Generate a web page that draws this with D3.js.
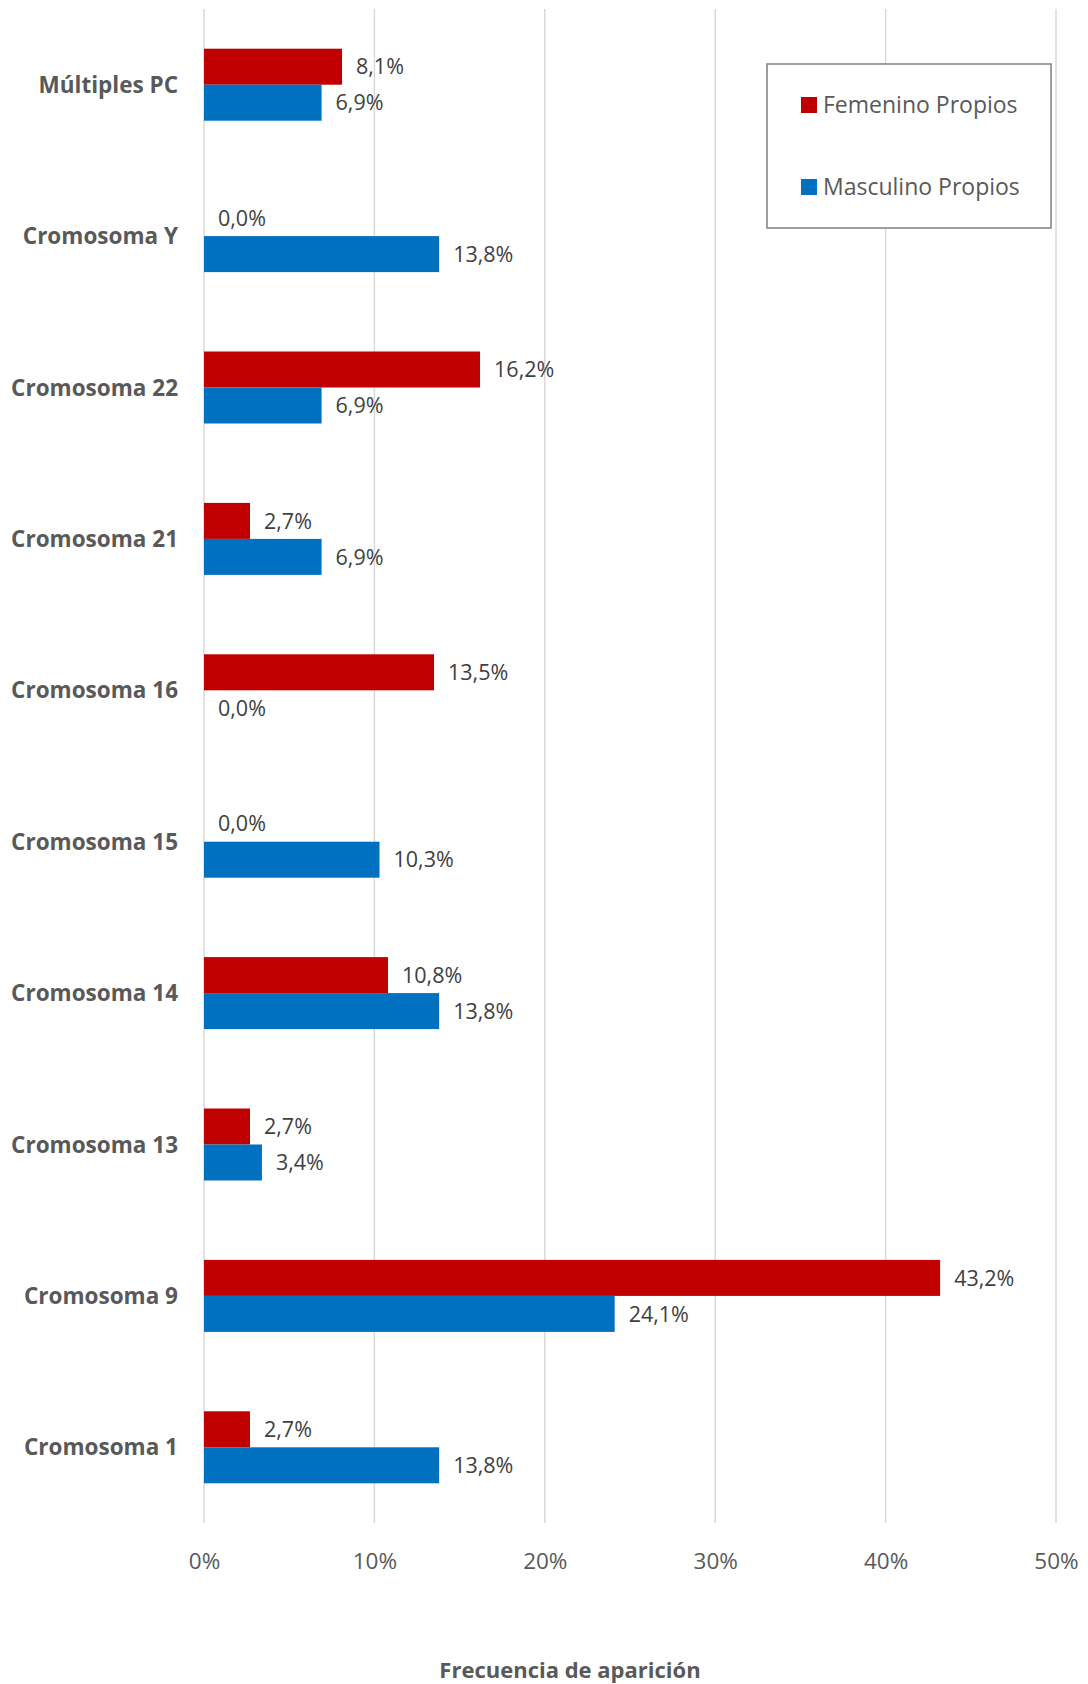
<!DOCTYPE html>
<html>
<head>
<meta charset="utf-8">
<script src="https://cdn.jsdelivr.net/npm/d3@7"></script>
<style>
  html, body { margin: 0; padding: 0; background: #fff; }
  svg { display: block; }
</style>
</head>
<body>
<svg id="chart" width="1088" height="1684"></svg>
<script>
// Categories listed top to bottom
const categories = ["Múltiples PC", "Cromosoma Y", "Cromosoma 22", "Cromosoma 21", "Cromosoma 16",
                    "Cromosoma 15", "Cromosoma 14", "Cromosoma 13", "Cromosoma 9", "Cromosoma 1"];
// Percentages per category
const femenino  = [8.1, 0.0, 16.2, 2.7, 13.5, 0.0, 10.8, 2.7, 43.2, 2.7];
const masculino = [6.9, 13.8, 6.9, 6.9, 0.0, 10.3, 13.8, 3.4, 24.1, 13.8];
const seriesNames = ["Femenino Propios", "Masculino Propios"];
const seriesColors = ["#C00000", "#0070C0"];
const xTicks = [0, 10, 20, 30, 40, 50];
const axisTitle = "Frecuencia de aparición";

const svg = d3.select("#chart");
const margin = { top: 9, right: 32, bottom: 161, left: 204 };
const W = 1088, H = 1684;
const plotW = W - margin.left - margin.right;
const plotH = H - margin.top - margin.bottom;

const g = svg.append("g").attr("transform", `translate(${margin.left},${margin.top})`);

const x = d3.scaleLinear().domain([0, 50]).range([0, plotW]);
const y = d3.scaleBand().domain(categories).range([0, plotH]);
const barH = 36;

const fontReg = "'Open Sans', 'Liberation Sans', sans-serif";

// Vertical gridlines
g.append("g")
  .selectAll("line")
  .data(xTicks)
  .join("line")
  .attr("x1", d => x(d)).attr("x2", d => x(d))
  .attr("y1", 0).attr("y2", plotH)
  .attr("stroke", "#d9d9d9")
  .attr("stroke-width", 1.5);

// Tick labels along the bottom
const xAxis = d3.axisBottom(x).tickValues(xTicks).tickFormat(d => d + "%").tickSize(0).tickPadding(0);
const xa = g.append("g").attr("transform", `translate(0,${plotH})`).call(xAxis);
xa.select(".domain").remove();
xa.selectAll("text")
  .attr("dy", null)
  .attr("y", 40)
  .attr("dominant-baseline", "middle")
  .attr("font-family", fontReg)
  .attr("font-size", 22.5)
  .attr("fill", "#595959");

// Category labels
const ya = g.append("g").call(d3.axisLeft(y).tickSize(0).tickPadding(26));
ya.select(".domain").remove();
ya.selectAll("text")
  .attr("dy", null)
  .attr("y", 2)
  .attr("dominant-baseline", "middle")
  .attr("font-family", fontReg)
  .attr("font-weight", "bold")
  .attr("font-size", 22.5)
  .attr("fill", "#595959");

// Bars: two per category, femenino above masculino
const rows = categories.map((c, i) => ({ cat: c, vals: [femenino[i], masculino[i]] }));
const rowG = g.selectAll("g.row")
  .data(rows)
  .join("g")
  .attr("class", "row")
  .attr("transform", d => `translate(0,${y(d.cat) + y.bandwidth() / 2 - barH})`);

rowG.selectAll("rect")
  .data(d => d.vals.map((v, k) => ({ v, k })))
  .join("rect")
  .attr("x", 0)
  .attr("y", d => d.k * barH)
  .attr("width", d => x(d.v))
  .attr("height", barH)
  .attr("fill", d => seriesColors[d.k]);

rowG.selectAll("text")
  .data(d => d.vals.map((v, k) => ({ v, k })))
  .join("text")
  .attr("x", d => x(d.v) + 14)
  .attr("y", d => d.k * barH + barH / 2 + 2)
  .attr("dominant-baseline", "middle")
  .attr("font-family", fontReg)
  .attr("font-size", 21.5)
  .attr("fill", "#404040")
  .text(d => d.v.toFixed(1).replace(".", ",") + "%");

// Legend
const lg = svg.append("g").attr("transform", "translate(767,64)");
lg.append("rect")
  .attr("width", 284).attr("height", 164)
  .attr("fill", "#fff")
  .attr("stroke", "#7f7f7f")
  .attr("stroke-width", 1.5);
seriesNames.forEach((name, k) => {
  const cy = 41 + k * 82;
  lg.append("rect")
    .attr("x", 34).attr("y", cy - 8)
    .attr("width", 16).attr("height", 16)
    .attr("fill", seriesColors[k]);
  lg.append("text")
    .attr("x", 56).attr("y", cy + 2)
    .attr("dominant-baseline", "middle")
    .attr("font-family", fontReg)
    .attr("font-size", 23)
    .attr("fill", "#595959")
    .text(name);
});

// Axis title
svg.append("text")
  .attr("x", 570).attr("y", 1672)
  .attr("text-anchor", "middle")
  .attr("dominant-baseline", "middle")
  .attr("font-family", fontReg)
  .attr("font-weight", "bold")
  .attr("font-size", 22)
  .attr("fill", "#595959")
  .text(axisTitle);
</script>
</body>
</html>
